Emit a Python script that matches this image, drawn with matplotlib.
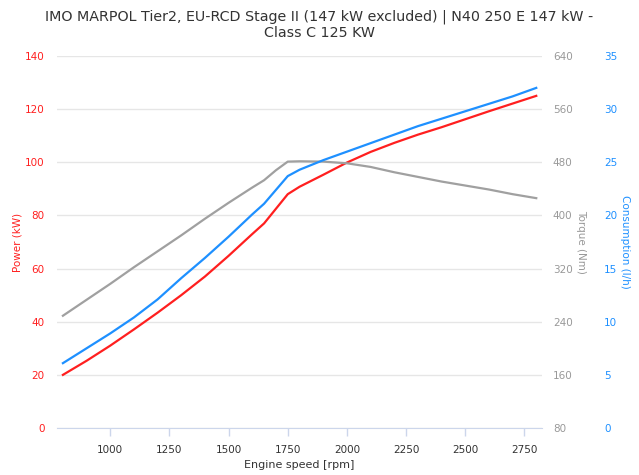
import matplotlib
matplotlib.use("Agg")
import matplotlib.pyplot as plt

# engine speed [rpm]
rpm = [800, 900, 1000, 1100, 1200, 1300, 1400, 1500, 1600, 1650, 1700, 1750,
       1800, 1900, 2000, 2100, 2200, 2300, 2400, 2500, 2600, 2700, 2800]

# power (kW)
power = [20, 25.3, 31, 37.1, 43.4, 50, 57, 64.8, 73, 77, 82.5, 88,
         90.8, 95.3, 99.9, 103.9, 107.3, 110.4, 113.2, 116.2, 119.2, 122.1, 125]

# torque (Nm)
torque = [249, 273, 297, 322, 346, 370, 395, 419, 442, 453, 468, 481,
          481.5, 481, 478.5, 473, 465, 458, 451, 445, 439, 432, 426]

# consumption (l/h)
consumption = [6.1, 7.5, 8.9, 10.4, 12.1, 14.1, 16.0, 18.0, 20.1, 21.1, 22.4, 23.7,
               24.3, 25.2, 26.0, 26.8, 27.6, 28.4, 29.1, 29.8, 30.5, 31.2, 32.0]

x_ticks = [1000, 1250, 1500, 1750, 2000, 2250, 2500, 2750]
power_ticks = [0, 20, 40, 60, 80, 100, 120, 140]
torque_ticks = [80, 160, 240, 320, 400, 480, 560, 640]
cons_ticks = [0, 5, 10, 15, 20, 25, 30, 35]

title = "IMO MARPOL Tier2, EU-RCD Stage II (147 kW excluded) | N40 250 E 147 kW -\nClass C 125 KW"

red = "#ff1f1f"
blue = "#1e90ff"
gray = "#a0a0a0"

fig = plt.figure(figsize=(6.39, 4.75), dpi=100)
ax = fig.add_axes([57 / 639, 1 - 428 / 475, (541.7 - 57) / 639, (428 - 56) / 475])
ax2 = ax.twinx()
ax3 = ax.twinx()

ax.plot(rpm, power, color=red, lw=1.6, zorder=3)
ax2.plot(rpm, torque, color=gray, lw=1.6)
ax3.plot(rpm, consumption, color=blue, lw=1.6)

ax.set_xlim(775, 2823)
ax.set_ylim(0, 140)
ax2.set_ylim(80, 640)
ax3.set_ylim(0, 35)

ax.set_xticks(x_ticks)
ax.set_yticks(power_ticks)
ax2.set_yticks(torque_ticks)
ax3.set_yticks(cons_ticks)

for a in (ax, ax2, ax3):
    for s in a.spines.values():
        s.set_visible(False)
ax.spines["bottom"].set_visible(True)
ax.spines["bottom"].set_color("#ccd6eb")

ax.grid(axis="y", color="#e6e6e6", lw=1)
ax.set_axisbelow(True)

ax.tick_params(axis="x", colors="#ccd6eb", length=6, width=1, labelcolor="#333333",
               labelsize=7.5, pad=6)
ax.tick_params(axis="y", length=0, labelcolor=red, labelsize=7.5, pad=9)
ax2.tick_params(axis="y", length=0, labelcolor="#999999", labelsize=7.5, pad=8)
ax3.tick_params(axis="y", length=0, labelcolor=blue, labelsize=7.5, pad=45)

ax.set_xlabel("Engine speed [rpm]", fontsize=8, color="#333333", labelpad=4)
fig.text(18 / 639, 1 - 242 / 475, "Power (kW)", rotation=90, color=red,
         fontsize=7.5, ha="center", va="center")
fig.text(581 / 639, 1 - 242 / 475, "Torque (Nm)", rotation=270, color="#999999",
         fontsize=7.5, ha="center", va="center")
fig.text(625 / 639, 1 - 242 / 475, "Consumption (l/h)", rotation=270, color=blue,
         fontsize=7.5, ha="center", va="center")

fig.text(0.5, 1 - 25 / 475, title, ha="center", va="center", fontsize=10.3,
         color="#333333", linespacing=1.15)

fig.savefig("out.png", dpi=100, facecolor="white")
